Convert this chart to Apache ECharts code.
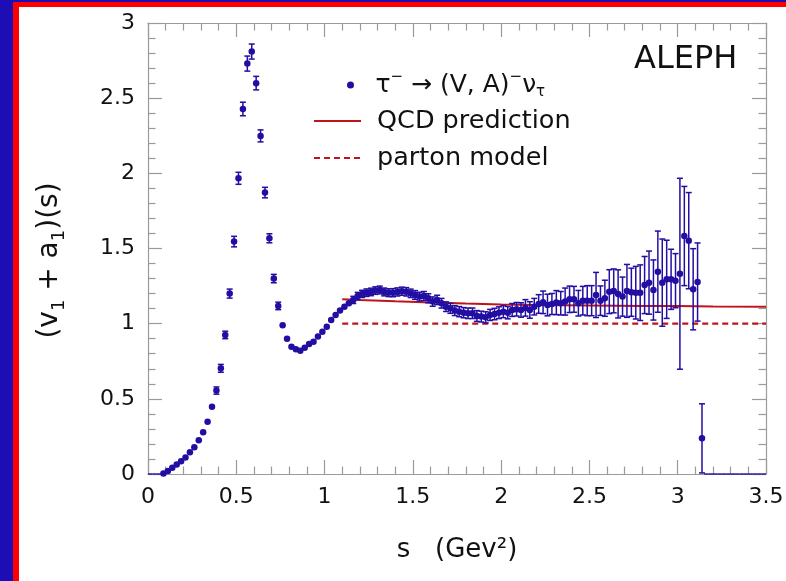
<!DOCTYPE html>
<html><head><meta charset="utf-8">
<script src="https://cdn.jsdelivr.net/npm/echarts@6/dist/echarts.min.js"></script>
<style>
html,body{margin:0;padding:0;width:786px;height:581px;overflow:hidden;background:#1d0db5;}
#frame{position:absolute;left:13px;top:2px;right:0;bottom:0;background:#fff;border-left:6px solid #ff0000;border-top:5px solid #ff0000;}
#chart{position:absolute;left:0;top:0;width:786px;height:581px;}
</style></head><body>
<div id="frame"></div><div id="chart"></div>
<script>
// bin centres (GeV^2) of measured bins
const sBins = [
0.0875,0.1125,0.1375,0.1625,0.1875,0.2125,0.2375,0.2625,0.2875,0.3125,
0.3375,0.3625,0.3875,0.4125,0.4375,0.4625,0.4875,0.5125,0.5375,0.5625,
0.5875,0.6125,0.6375,0.6625,0.6875,0.7125,0.7375,0.7625,0.7875,0.8125,
0.8375,0.8625,0.8875,0.9125,0.9375,0.9625,0.9875,1.0125,1.0375,1.0625,
1.0875,1.1125,1.1375,1.1625,1.1875,1.2125,1.2375,1.2625,1.2875,1.3125,
1.3375,1.3625,1.3875,1.4125,1.4375,1.4625,1.4875,1.5125,1.5375,1.5625,
1.5875,1.6125,1.6375,1.6625,1.6875,1.7125,1.7375,1.7625,1.7875,1.8125,
1.8375,1.8625,1.8875,1.9125,1.9375,1.9625,1.9875,2.0125,2.0375,2.0625,
2.0875,2.1125,2.1375,2.1625,2.1875,2.2125,2.2375,2.2625,2.2875,2.3125,
2.3375,2.3625,2.3875,2.4125,2.4375,2.4625,2.4875,2.5125,2.5375,2.5625,
2.5875,2.6125,2.6375,2.6625,2.6875,2.7125,2.7375,2.7625,2.7875,2.8125,
2.8375,2.8625,2.8875,2.9125,2.9375,2.9625,2.9875,3.0125,3.0375,3.0625,
3.0875,3.1125,3.1375];
// (v1 + a1)(s) values
const vBins = [
0.004,0.020,0.042,0.063,0.084,0.110,0.145,0.178,0.225,0.277,
0.348,0.448,0.555,0.703,0.925,1.200,1.546,1.967,2.428,2.730,
2.810,2.600,2.249,1.872,1.568,1.300,1.118,0.990,0.900,0.847,
0.830,0.820,0.840,0.865,0.880,0.914,0.947,0.980,1.025,1.058,
1.087,1.113,1.136,1.158,1.184,1.198,1.206,1.211,1.220,1.224,
1.211,1.206,1.206,1.211,1.216,1.212,1.202,1.191,1.180,1.184,
1.169,1.147,1.158,1.136,1.113,1.102,1.087,1.080,1.073,1.069,
1.069,1.051,1.047,1.042,1.058,1.064,1.073,1.080,1.073,1.091,
1.096,1.091,1.105,1.091,1.113,1.131,1.142,1.124,1.131,1.140,
1.136,1.147,1.162,1.162,1.136,1.153,1.153,1.153,1.191,1.153,
1.169,1.213,1.218,1.198,1.180,1.218,1.209,1.206,1.206,1.257,
1.273,1.224,1.346,1.273,1.295,1.295,1.286,1.332,1.583,1.552,
1.229,1.277,0.237];
// symmetric errors
const eBins = [
0.004,0.004,0.004,0.005,0.005,0.005,0.006,0.006,0.007,0.007,
0.008,0.010,0.024,0.026,0.025,0.030,0.035,0.040,0.045,0.050,
0.050,0.045,0.040,0.035,0.030,0.028,0.025,0.022,0.020,0.020,
0.020,0.020,0.020,0.020,0.020,0.021,0.021,0.022,0.022,0.022,
0.023,0.023,0.023,0.024,0.024,0.024,0.025,0.025,0.025,0.026,
0.026,0.026,0.027,0.027,0.027,0.028,0.028,0.029,0.029,0.030,
0.030,0.031,0.031,0.032,0.032,0.033,0.033,0.034,0.034,0.035,
0.035,0.036,0.036,0.037,0.037,0.038,0.039,0.040,0.041,0.043,
0.045,0.048,0.055,0.055,0.055,0.062,0.075,0.072,0.070,0.080,
0.078,0.090,0.088,0.086,0.085,0.095,0.100,0.100,0.150,0.098,
0.120,0.146,0.146,0.160,0.130,0.176,0.160,0.175,0.185,0.190,
0.210,0.200,0.270,0.290,0.260,0.200,0.180,0.635,0.330,0.320,
0.270,0.260,0.230];
// empty bins (content 0)
const zeroBins = [0.0125,0.0375,0.0625,
3.1625,3.1875,3.2125,3.2375,3.2625,3.2875,3.3125,3.3375,3.3625,3.3875,3.4125,3.4375,3.4625,3.4875];
const binHalf = 0.0125;
// QCD prediction curve
const qcdS = [1.1,1.2,1.4,1.6,1.8,2.0,2.2,2.5,2.8,3.0,3.2,3.5];
const qcdV = [1.163,1.158,1.149,1.141,1.134,1.128,1.124,1.121,1.118,1.117,1.115,1.113];
// parton model
const partonS = [1.1,3.5];
const partonV = [1.0,1.0];

const FONT = 'DejaVu Sans';
const BLUE = '#220ea2';
const RED = '#c0141c';
const AX = '#9a9a9a';
const TAU = 'tau data';
const QCD = 'QCD prediction';
const PARTON = 'parton model';

function errItem(params, api){
  const s = api.value(0), v = api.value(1), e = api.value(2);
  const p = api.coord([s, v]), t = api.coord([s, v + e]), b = api.coord([s, v - e]);
  const st = {stroke: BLUE, lineWidth: 1.5};
  if (b[1] - t[1] < 7) return {type: 'group', children: []};
  const w = 3;
  return {type: 'group', children: [
    {type: 'line', shape: {x1: p[0], y1: t[1], x2: p[0], y2: b[1]}, style: st},
    {type: 'line', shape: {x1: p[0] - w, y1: t[1], x2: p[0] + w, y2: t[1]}, style: st},
    {type: 'line', shape: {x1: p[0] - w, y1: b[1], x2: p[0] + w, y2: b[1]}, style: st}
  ]};
}
function zeroItem(params, api){
  const s = api.value(0);
  const a = api.coord([s - binHalf, 0]), b = api.coord([s + binHalf, 0]);
  return {type: 'line', shape: {x1: a[0], y1: a[1], x2: b[0], y2: b[1]}, style: {stroke: BLUE, lineWidth: 1.4}};
}

const common = {
  type: 'value',
  axisLine: {show: true, onZero: false, lineStyle: {color: AX, width: 1.2}},
  axisTick: {show: true, inside: true, length: 14, lineStyle: {color: AX, width: 1.2}},
  minorTick: {show: true, splitNumber: 5, length: 7.5, lineStyle: {color: AX, width: 1.2}},
  splitLine: {show: false}, minorSplitLine: {show: false}
};
const labelStyle = {show: true, fontSize: 22, fontFamily: FONT, color: '#111'};

const chart = echarts.init(document.getElementById('chart'), null, {renderer: 'canvas'});
chart.setOption({
  animation: false,
  backgroundColor: 'transparent',
  grid: {left: 148, right: 20, top: 23, bottom: 107, outerBoundsMode: 'none'},
  xAxis: [
    Object.assign({}, common, {position: 'bottom', min: 0, max: 3.5, interval: 0.5,
      axisLabel: Object.assign({}, labelStyle, {margin: 12}),
      name: 's   (Gev²)', nameLocation: 'middle', nameGap: 63,
      nameTextStyle: {fontSize: 26, fontFamily: FONT, color: '#111'}}),
    Object.assign({}, common, {position: 'top', min: 0, max: 3.5, interval: 0.5, axisLabel: {show: false}})
  ],
  yAxis: [
    Object.assign({}, common, {position: 'left', min: 0, max: 3, interval: 0.5,
      axisLabel: Object.assign({}, labelStyle, {margin: 13}),
      name: '{t|(v}{s|1}{t| + a}{s|1}{t|)(s)}', nameLocation: 'middle', nameGap: 80, nameRotate: 90,
      nameTextStyle: {fontFamily: FONT, color: '#111', padding: [0, 24, 0, 0], rich: {
        t: {fontSize: 28, fontFamily: FONT, color: '#111', lineHeight: 36},
        s: {fontSize: 18, fontFamily: FONT, color: '#111', verticalAlign: 'bottom'}
      }}}),
    Object.assign({}, common, {position: 'right', min: 0, max: 3, interval: 0.5, axisLabel: {show: false}})
  ],
  legend: [
    {left: 347, top: 70, padding: 0, itemWidth: 40, itemHeight: 7, icon: 'circle', data: [TAU],
     selectedMode: false, itemStyle: {opacity: 1},
     formatter: () => '{a|τ}{p|−}{a| → (V, A)}{p|−}{a|ν}{b|τ}',
     textStyle: {fontSize: 25, fontFamily: FONT, color: '#111', rich: {
       a: {fontSize: 25, fontFamily: FONT, color: '#111', lineHeight: 30},
       p: {fontSize: 15, fontFamily: FONT, color: '#111', verticalAlign: 'top'},
       b: {fontSize: 15, fontFamily: FONT, color: '#111', verticalAlign: 'bottom'}
     }}},
    {left: 313, top: 106, padding: 0, orient: 'vertical', itemWidth: 47, itemHeight: 14, itemGap: 7,
     selectedMode: false, data: [QCD, PARTON], itemStyle: {opacity: 0},
     textStyle: {fontSize: 25.5, fontFamily: FONT, color: '#111', lineHeight: 30, padding: [0, 0, 0, 11]}}
  ],
  graphic: [
    {type: 'text', left: 634, top: 44, style: {text: 'ALEPH', fontSize: 32, fontFamily: FONT, fill: '#111'}}
  ],
  series: [
    {type: 'custom', renderItem: zeroItem, data: zeroBins.map(s => [s, 0]), encode: {x: 0, y: 0}, z: 3, silent: true},
    {type: 'custom', renderItem: errItem, data: sBins.map((s, i) => [s, vBins[i], eBins[i]]), encode: {x: 0, y: 1}, z: 3, silent: true},
    {name: QCD, type: 'line', data: qcdS.map((s, i) => [s, qcdV[i]]), symbol: 'none', showSymbol: false,
     lineStyle: {color: RED, width: 2}, itemStyle: {color: RED}, z: 2},
    {name: PARTON, type: 'line', data: partonS.map((s, i) => [s, partonV[i]]), symbol: 'none', showSymbol: false,
     lineStyle: {color: RED, width: 2.2, type: [6, 4]}, itemStyle: {color: RED}, z: 2},
    {name: TAU, type: 'scatter', data: sBins.map((s, i) => [s, vBins[i]]), symbol: 'circle', symbolSize: 6.5,
     itemStyle: {color: BLUE, opacity: 1}, z: 4}
  ]
});
</script>
</body></html>
